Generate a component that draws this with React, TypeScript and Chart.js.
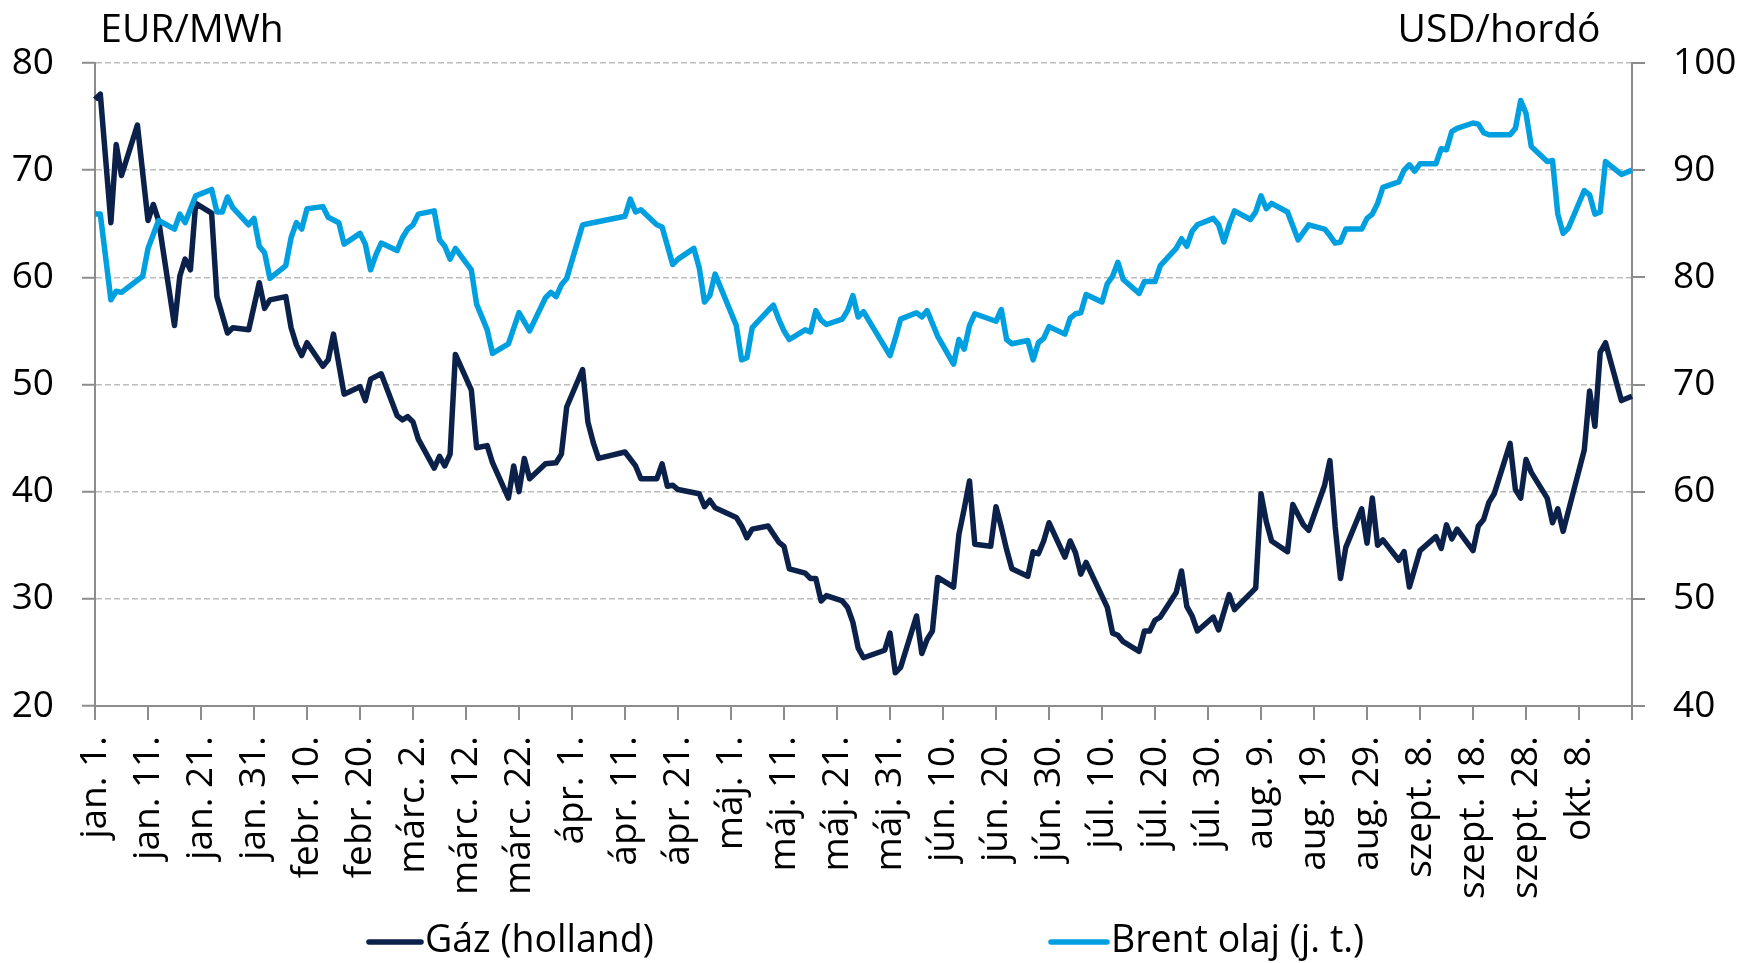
import { useEffect, useRef } from 'react';
import { Chart, registerables } from 'chart.js';

Chart.register(...registerables);

const FONT = '"Open Sans", sans-serif';
const DAY_COUNT = 291; // jan. 1. – okt. 18., daily date axis

const tickLabels = [
  'jan. 1.', 'jan. 11.', 'jan. 21.', 'jan. 31.', 'febr. 10.', 'febr. 20.', 'márc. 2.', 'márc. 12.',
  'márc. 22.', 'ápr. 1.', 'ápr. 11.', 'ápr. 21.', 'máj. 1.', 'máj. 11.', 'máj. 21.', 'máj. 31.',
  'jún. 10.', 'jún. 20.', 'jún. 30.', 'júl. 10.', 'júl. 20.', 'júl. 30.', 'aug. 9.', 'aug. 19.',
  'aug. 29.', 'szept. 8.', 'szept. 18.', 'szept. 28.', 'okt. 8.',
];

// Gáz (holland), EUR/MWh — day index from jan. 1.
const gasDays = [
  0, 1, 3, 4, 5, 8, 10, 11, 12, 15, 16, 17, 18, 19, 22, 23, 25, 26, 29, 31, 32, 33, 36, 37, 38, 39, 40,
  43, 44, 45, 47, 50, 51, 52, 54, 57, 58, 59, 60, 61, 64, 65, 66, 67, 68, 71, 72, 74, 75, 78, 79, 80, 81,
  82, 85, 87, 88, 89, 92, 93, 94, 95, 100, 102, 103, 106, 107, 108, 109, 110, 114, 115, 116, 117, 121,
  122, 123, 124, 127, 129, 130, 131, 134, 135, 136, 137, 138, 141, 142, 143, 144, 145, 149, 150, 151,
  152, 155, 156, 157, 158, 159, 162, 163, 164, 165, 166, 169, 170, 171, 172, 173, 176, 177, 178, 179,
  180, 183, 184, 185, 186, 187, 191, 192, 193, 194, 197, 198, 199, 200, 201, 204, 205, 206, 207, 208,
  211, 212, 214, 215, 219, 220, 221, 222, 225, 226, 228, 229, 232, 233, 234, 235, 236, 239, 240, 241,
  242, 243, 246, 247, 248, 250, 253, 254, 255, 256, 257, 260, 261, 262, 263, 264, 267, 268, 269, 270,
  271, 274, 275, 276, 277, 281, 282, 283, 284, 285, 288, 290,
];
const gasValues = [
  76.6, 77.1, 65.1, 72.4, 69.5, 74.2, 65.3, 66.8, 65.3, 55.5, 60.1, 61.7, 60.7, 66.9, 66.0, 58.2, 54.8,
  55.3, 55.1, 59.5, 57.1, 57.9, 58.2, 55.3, 53.7, 52.7, 53.9,
  51.7, 52.3, 54.7, 49.1, 49.8, 48.5, 50.5, 51.0, 47.1, 46.7, 47.0, 46.5, 44.9, 42.2, 43.3, 42.4, 43.5,
  52.8, 49.5, 44.1, 44.3, 42.7, 39.4, 42.4, 40.0, 43.1,
  41.2, 42.6, 42.7, 43.5, 47.9, 51.4, 46.5, 44.6, 43.1, 43.7, 42.4, 41.2, 41.2, 42.6, 40.5, 40.6, 40.2,
  39.8, 38.6, 39.2, 38.5, 37.6,
  36.8, 35.7, 36.5, 36.8, 35.3, 34.9, 32.8, 32.4, 31.9, 31.9, 29.8, 30.3, 29.8, 29.2, 27.8, 25.4, 24.5,
  25.2, 26.8, 23.1,
  23.6, 28.4, 24.9, 26.2, 27.0, 32.0, 31.1, 36.0, 38.4, 41.0, 35.1, 34.9, 38.6, 36.7, 34.6, 32.8, 32.1,
  34.4, 34.2, 35.4,
  37.1, 33.9, 35.4, 34.3, 32.3, 33.4, 29.2, 26.8, 26.6, 26.0, 25.1, 27.0, 27.0, 28.0, 28.3, 30.6, 32.6,
  29.3, 28.4, 27.0,
  28.3, 27.1, 30.4, 29.0, 31.0, 39.8, 37.2, 35.4, 34.4, 38.8, 36.9, 36.4, 40.6, 42.9, 36.7, 31.9, 34.8,
  38.4, 35.2, 39.4,
  35.0, 35.5, 33.6, 34.4, 31.1, 34.5, 35.8, 34.7, 36.9, 35.6, 36.5, 34.5, 36.8, 37.4, 39.0, 39.8, 44.5,
  40.2, 39.4, 43.0,
  41.8, 39.4, 37.1, 38.4, 36.3, 43.9, 49.4, 46.1, 53.0, 53.9, 48.5, 48.9,
];

// Brent olaj (j. t.), USD/hordó — day index from jan. 1.
const brentDays = [
  0, 1, 3, 4, 5, 9, 10, 12, 15, 16, 17, 19, 22, 23, 24, 25, 26, 29, 30, 31, 32, 33, 36, 37, 38, 39, 40,
  43, 44, 46, 47, 50, 51, 52, 53, 54, 57, 58, 59, 60, 61, 64, 65, 66, 67, 68, 71, 72, 74, 75, 78, 80, 82,
  85, 86, 87, 88, 89, 92, 93, 100, 101, 102, 103, 106, 107, 109, 110, 113, 114, 115, 116, 117, 121, 122,
  123, 124, 127, 128, 129, 130, 131, 134, 135, 136, 137, 138, 141, 142, 143, 144, 145, 150, 151, 152,
  155, 156, 157, 159, 162, 163, 164, 165, 166, 170, 171, 172, 173, 176, 177, 178, 179, 180, 183, 184,
  185, 186, 187, 190, 191, 192, 193, 194, 197, 198, 200, 201, 204, 205, 206, 207, 208, 211, 212, 213,
  214, 215, 218, 219, 220, 221, 222, 225, 227, 229, 232, 233, 234, 235, 236, 239, 240, 241, 242, 243,
  246, 247, 248, 249, 250, 253, 254, 255, 256, 257, 260, 261, 262, 263, 267, 268, 269, 270, 271, 274,
  275, 276, 277, 278, 281, 282, 283, 284, 285, 288, 290,
];
const brentValues = [
  85.9, 85.9, 77.9, 78.7, 78.6, 80.1, 82.7, 85.3, 84.5, 85.9, 85.1, 87.6, 88.2, 86.1, 86.1, 87.5, 86.5,
  84.9, 85.5, 82.9, 82.3, 79.9, 81.1, 83.7, 85.1, 84.5, 86.4,
  86.6, 85.6, 85.1, 83.1, 84.1, 83.1, 80.7, 82.1, 83.2, 82.5, 83.7, 84.5, 84.9, 85.9, 86.2, 83.5, 82.9,
  81.7, 82.7, 80.7, 77.5, 75.1, 72.9, 73.8, 76.7, 75.0,
  78.1, 78.6, 78.2, 79.3, 79.9, 84.9, 85.0, 85.7, 87.3, 86.1, 86.3, 84.9, 84.7, 81.2, 81.7, 82.7, 80.9,
  77.7, 78.3, 80.3, 75.5, 72.3,
  72.5, 75.3, 76.9, 77.4, 76.1, 75.0, 74.2, 75.1, 74.9, 76.9, 76.0, 75.6, 76.1, 76.9, 78.3, 76.3, 76.8,
  72.7, 74.3, 76.1,
  76.7, 76.3, 76.9, 74.5, 71.9, 74.2, 73.3, 75.5, 76.6, 75.9, 77.0, 74.2, 73.8, 74.1, 72.3, 73.9, 74.3,
  75.4, 74.7, 76.2,
  76.6, 76.7, 78.4, 77.7, 79.4, 80.1, 81.4, 79.8, 78.5, 79.6, 79.6, 81.1, 82.7, 83.6, 82.9, 84.3, 84.9,
  85.5, 84.9, 83.3,
  84.9, 86.2, 85.4, 86.1, 87.6, 86.4, 86.9, 86.1, 83.5, 84.9, 84.5, 83.9, 83.2, 83.3, 84.5, 84.5, 85.5,
  85.9, 86.9, 88.4,
  88.9, 90.0, 90.5, 89.9, 90.6, 90.6, 92.0, 91.9, 93.6, 93.9, 94.4, 94.3, 93.5, 93.3, 93.3, 93.9, 96.5,
  95.3, 92.2, 90.8,
  90.9, 85.9, 84.1, 84.6, 88.1, 87.7, 85.9, 86.1, 90.8, 89.6, 90.0,
];

const AXIS = '#8c8c8c';
const GRID = '#bcbcbc';
const GAS = '#0c2149';
const BRENT = '#009fe0';
const TEXT = '#000000';

function toSeries(days: number[], values: number[]) {
  const arr: (number | null)[] = new Array(DAY_COUNT).fill(null);
  days.forEach((d, i) => {
    arr[d] = values[i];
  });
  return arr;
}

export default function App() {
  const ref = useRef<HTMLCanvasElement>(null);

  useEffect(() => {
    const canvas = ref.current;
    if (!canvas) return;

    const overlay = {
      id: 'unitsAndLegend',
      afterDraw(chart: any) {
        const { ctx } = chart;
        ctx.save();
        ctx.fillStyle = TEXT;
        ctx.textBaseline = 'alphabetic';
        ctx.textAlign = 'center';
        ctx.font = `39px ${FONT}`;
        ctx.fillText('EUR/MWh', 192, 42);
        ctx.fillText('USD/hordó', 1499, 42);

        ctx.font = `37.5px ${FONT}`;
        const items = [
          { ds: 0, x1: 369, x2: 421, tx: 425 },
          { ds: 1, x1: 1051, x2: 1107, tx: 1111 },
        ];
        items.forEach((it) => {
          const ds = chart.data.datasets[it.ds];
          ctx.strokeStyle = ds.borderColor;
          ctx.lineWidth = 5.5;
          ctx.lineCap = 'round';
          ctx.beginPath();
          ctx.moveTo(it.x1, 942);
          ctx.lineTo(it.x2, 942);
          ctx.stroke();
          ctx.textAlign = 'left';
          ctx.fillStyle = TEXT;
          ctx.fillText(ds.label, it.tx, 952);
        });
        ctx.restore();
      },
    };

    const font = { family: FONT, size: 37 };

    const chart = new Chart(canvas, {
      type: 'line',
      data: {
        labels: Array.from({ length: DAY_COUNT }, (_, i) => String(i)),
        datasets: [
          {
            label: 'Gáz (holland)',
            data: toSeries(gasDays, gasValues),
            borderColor: GAS,
            backgroundColor: GAS,
            borderWidth: 5.5,
            pointRadius: 0,
            tension: 0,
            spanGaps: true,
            borderJoinStyle: 'round',
            yAxisID: 'y',
            order: 1,
          },
          {
            label: 'Brent olaj (j. t.)',
            data: toSeries(brentDays, brentValues),
            borderColor: BRENT,
            backgroundColor: BRENT,
            borderWidth: 5.5,
            pointRadius: 0,
            tension: 0,
            spanGaps: true,
            borderJoinStyle: 'round',
            yAxisID: 'y1',
            order: 0,
          },
        ],
      },
      options: {
        responsive: false,
        animation: false,
        devicePixelRatio: 1,
        layout: { padding: { top: 63, bottom: 0, left: 0, right: 0 } },
        plugins: { legend: { display: false }, tooltip: { enabled: false } },
        scales: {
          x: {
            type: 'category',
            offset: false,
            grid: {
              drawOnChartArea: false,
              drawTicks: true,
              tickLength: 14,
              offset: false,
              lineWidth: 2,
              color: (c: any) => (c.index % 10 === 0 ? AXIS : 'rgba(0,0,0,0)'),
              tickColor: (c: any) => (c.index % 10 === 0 ? AXIS : 'rgba(0,0,0,0)'),
            },
            border: { display: true, color: AXIS, width: 2 },
            ticks: {
              autoSkip: false,
              maxRotation: 90,
              minRotation: 90,
              padding: 16,
              color: TEXT,
              font,
              callback: (_v: any, i: number) => (i % 10 === 0 && tickLabels[i / 10] ? tickLabels[i / 10] : ''),
            },
            afterFit: (s: any) => {
              s.height = 257;
            },
          },
          y: {
            position: 'left',
            min: 20,
            max: 80,
            ticks: { stepSize: 10, padding: 28, color: TEXT, font },
            grid: {
              drawTicks: true,
              tickLength: 13,
              lineWidth: 1.5,
              tickWidth: 2,
              tickColor: AXIS,
              color: (c: any) => (c.tick && c.tick.value === 20 ? 'rgba(0,0,0,0)' : GRID),
            },
            border: { display: true, color: AXIS, width: 2, dash: [6, 3] },
            afterFit: (s: any) => {
              s.width = 95;
            },
          },
          y1: {
            position: 'right',
            min: 40,
            max: 100,
            ticks: { stepSize: 10, padding: 28, color: TEXT, font },
            grid: {
              drawOnChartArea: false,
              drawTicks: true,
              tickLength: 13,
              lineWidth: 2,
              color: AXIS,
            },
            border: { display: true, color: AXIS, width: 2 },
            afterFit: (s: any) => {
              s.width = 107;
            },
          },
        },
      } as any,
      plugins: [overlay],
    });

    return () => chart.destroy();
  }, []);

  return (
    <div style={{ position: 'absolute', left: 0, top: 0, width: 1739, height: 963, background: '#fff' }}>
      <canvas ref={ref} width={1739} height={963} style={{ display: 'block', width: 1739, height: 963 }} />
    </div>
  );
}
